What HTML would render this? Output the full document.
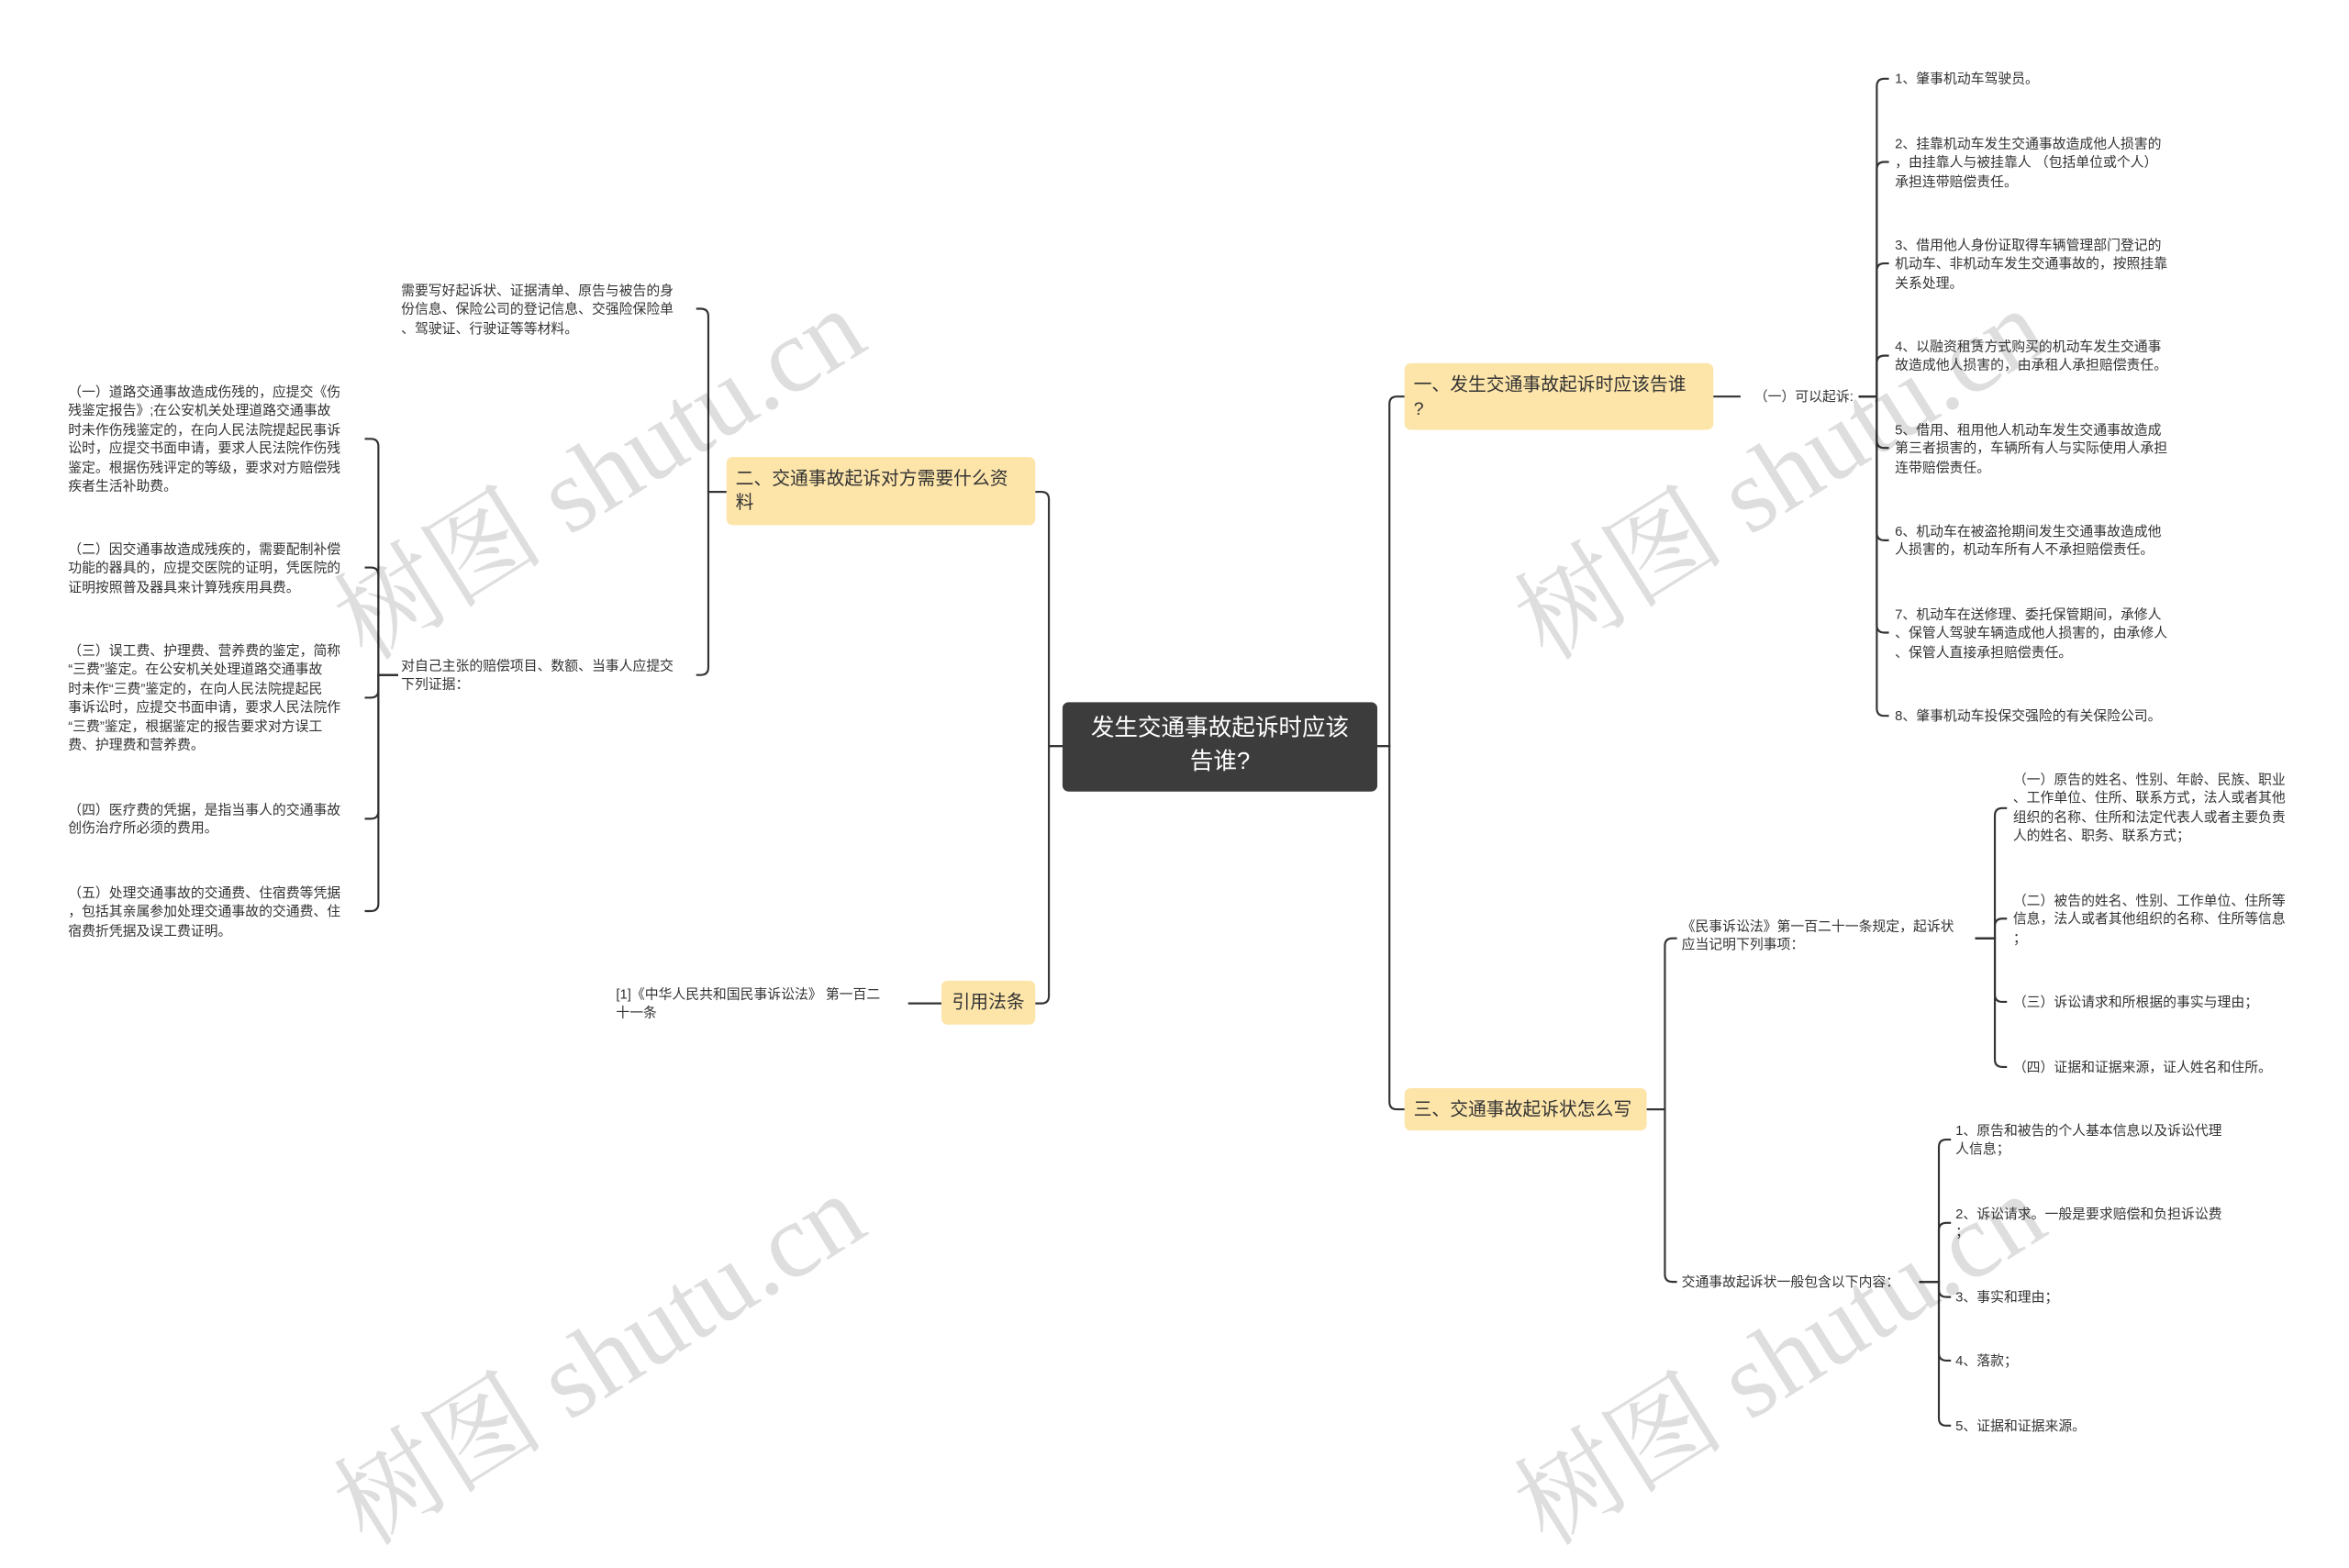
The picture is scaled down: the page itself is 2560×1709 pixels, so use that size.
<!DOCTYPE html>
<html><head><meta charset="utf-8">
<style>
html,body{margin:0;padding:0;background:#fff;}
body{width:2560px;height:1623px;overflow:hidden;position:relative;}
#w{position:absolute;left:0;top:0;width:1552px;height:984px;transform:scale(1.6495);transform-origin:0 0;font-family:"Liberation Sans","Noto Sans CJK SC",sans-serif;color:#333;}
.t{position:absolute;font-size:9px;line-height:12.4px;white-space:nowrap;color:#333;}
.n{position:absolute;background:#fde5aa;border-radius:4px;font-size:12px;line-height:16px;color:#333;box-sizing:border-box;padding:6px 6px;}
.c{position:absolute;left:702px;top:464px;width:208px;height:59px;background:#3c3c3c;border-radius:4px;color:#fff;font-size:15.5px;line-height:22px;text-align:center;box-sizing:border-box;padding-top:7px;}
.wm{position:absolute;width:0;height:0;}
.wm span{position:absolute;left:0;top:0;font-family:"Liberation Serif","Noto Serif CJK SC",serif;font-size:70px;line-height:70px;color:rgba(0,0,0,0.13);white-space:nowrap;transform:translate(-50%,-50%) rotate(-32deg);}
svg{position:absolute;left:0;top:0;}
</style></head><body>
<div id="w">
<svg width="1552" height="984" fill="none" stroke="#333" stroke-width="1.3">
<path d="M910 493H918V267Q918 262 923 262H928"/>
<path d="M910 493H918V728Q918 733 923 733H928"/>
<path d="M702 493H693V330Q693 325 688 325H684"/>
<path d="M702 493H693V658Q693 663 688 663H684"/>
<path d="M1132 262H1150"/>
<path d="M1228 262H1240V57Q1240 52 1245 52H1248"/>
<path d="M1228 262H1240V112Q1240 107 1245 107H1248"/>
<path d="M1228 262H1240V179Q1240 174 1245 174H1248"/>
<path d="M1228 262H1240V240Q1240 235 1245 235H1248"/>
<path d="M1228 262H1240V291Q1240 296 1245 296H1248"/>
<path d="M1228 262H1240V352Q1240 357 1245 357H1248"/>
<path d="M1228 262H1240V413Q1240 418 1245 418H1248"/>
<path d="M1228 262H1240V468Q1240 473 1245 473H1248"/>
<path d="M1088 733H1100V625Q1100 620 1105 620H1108"/>
<path d="M1088 733H1100V842Q1100 847 1105 847H1108"/>
<path d="M1305 620H1318V539Q1318 534 1323 534H1326"/>
<path d="M1305 620H1318V612Q1318 607 1323 607H1326"/>
<path d="M1305 620H1318V657Q1318 662 1323 662H1326"/>
<path d="M1305 620H1318V700Q1318 705 1323 705H1326"/>
<path d="M1268 847H1281V758Q1281 753 1286 753H1289"/>
<path d="M1268 847H1281V813Q1281 808 1286 808H1289"/>
<path d="M1268 847H1281V852Q1281 857 1286 857H1289"/>
<path d="M1268 847H1281V894Q1281 899 1286 899H1289"/>
<path d="M1268 847H1281V937Q1281 942 1286 942H1289"/>
<path d="M480 325H468V209Q468 204 463 204H460"/>
<path d="M480 325H468V441Q468 446 463 446H460"/>
<path d="M263 446H250V295Q250 290 245 290H241"/>
<path d="M263 446H250V380Q250 375 245 375H241"/>
<path d="M263 446H250V456Q250 461 245 461H241"/>
<path d="M263 446H250V536Q250 541 245 541H241"/>
<path d="M263 446H250V597Q250 602 245 602H241"/>
<path d="M622 663H600"/>
</svg>

<div class="wm" style="left:397px;top:315px;"><span>树图 shutu.cn</span></div>
<div class="wm" style="left:1177px;top:315px;"><span>树图 shutu.cn</span></div>
<div class="wm" style="left:397px;top:900px;"><span>树图 shutu.cn</span></div>
<div class="wm" style="left:1177px;top:900px;"><span>树图 shutu.cn</span></div>

<div class="c">发生交通事故起诉时应该<br>告谁?</div>
<div class="n" style="left:928px;top:240px;width:204px;height:44px;">一、发生交通事故起诉时应该告谁<br>?</div>
<div class="n" style="left:928px;top:719px;width:160px;height:28px;padding-top:6px;">三、交通事故起诉状怎么写</div>
<div class="n" style="left:480px;top:302px;width:204px;height:45px;padding-top:6px;">二、交通事故起诉对方需要什么资<br>料</div>
<div class="n" style="left:622px;top:648px;width:62px;height:29px;padding-top:6px;text-align:center;">引用法条</div>

<div class="t" style="left:1159px;top:256px;">（一）可以起诉:</div>
<div class="t" style="left:1252px;top:46px;">1、肇事机动车驾驶员。</div>
<div class="t" style="left:1252px;top:89px;">2、挂靠机动车发生交通事故造成他人损害的<br>，由挂靠人与被挂靠人 （包括单位或个人）<br>承担连带赔偿责任。</div>
<div class="t" style="left:1252px;top:156px;">3、借用他人身份证取得车辆管理部门登记的<br>机动车、非机动车发生交通事故的，按照挂靠<br>关系处理。</div>
<div class="t" style="left:1252px;top:223px;">4、以融资租赁方式购买的机动车发生交通事<br>故造成他人损害的，由承租人承担赔偿责任。</div>
<div class="t" style="left:1252px;top:278px;">5、借用、租用他人机动车发生交通事故造成<br>第三者损害的，车辆所有人与实际使用人承担<br>连带赔偿责任。</div>
<div class="t" style="left:1252px;top:345px;">6、机动车在被盗抢期间发生交通事故造成他<br>人损害的，机动车所有人不承担赔偿责任。</div>
<div class="t" style="left:1252px;top:400px;">7、机动车在送修理、委托保管期间，承修人<br>、保管人驾驶车辆造成他人损害的，由承修人<br>、保管人直接承担赔偿责任。</div>
<div class="t" style="left:1252px;top:467px;">8、肇事机动车投保交强险的有关保险公司。</div>

<div class="t" style="left:1111px;top:606px;">《民事诉讼法》第一百二十一条规定，起诉状<br>应当记明下列事项：</div>
<div class="t" style="left:1111px;top:841px;">交通事故起诉状一般包含以下内容：</div>
<div class="t" style="left:1330px;top:509px;">（一）原告的姓名、性别、年龄、民族、职业<br>、工作单位、住所、联系方式，法人或者其他<br>组织的名称、住所和法定代表人或者主要负责<br>人的姓名、职务、联系方式；</div>
<div class="t" style="left:1330px;top:589px;">（二）被告的姓名、性别、工作单位、住所等<br>信息，法人或者其他组织的名称、住所等信息<br>；</div>
<div class="t" style="left:1330px;top:656px;">（三）诉讼请求和所根据的事实与理由；</div>
<div class="t" style="left:1330px;top:699px;">（四）证据和证据来源，证人姓名和住所。</div>
<div class="t" style="left:1292px;top:741px;">1、原告和被告的个人基本信息以及诉讼代理<br>人信息；</div>
<div class="t" style="left:1292px;top:796px;">2、诉讼请求。一般是要求赔偿和负担诉讼费<br>；</div>
<div class="t" style="left:1292px;top:851px;">3、事实和理由；</div>
<div class="t" style="left:1292px;top:893px;">4、落款；</div>
<div class="t" style="left:1292px;top:936px;">5、证据和证据来源。</div>

<div class="t" style="left:265px;top:186px;">需要写好起诉状、证据清单、原告与被告的身<br>份信息、保险公司的登记信息、交强险保险单<br>、驾驶证、行驶证等等材料。</div>
<div class="t" style="left:265px;top:434px;">对自己主张的赔偿项目、数额、当事人应提交<br>下列证据：</div>
<div class="t" style="left:45px;top:253px;">（一）道路交通事故造成伤残的，应提交《伤<br>残鉴定报告》;在公安机关处理道路交通事故<br>时未作伤残鉴定的，在向人民法院提起民事诉<br>讼时，应提交书面申请，要求人民法院作伤残<br>鉴定。根据伤残评定的等级，要求对方赔偿残<br>疾者生活补助费。</div>
<div class="t" style="left:45px;top:357px;">（二）因交通事故造成残疾的，需要配制补偿<br>功能的器具的，应提交医院的证明，凭医院的<br>证明按照普及器具来计算残疾用具费。</div>
<div class="t" style="left:45px;top:424px;">（三）误工费、护理费、营养费的鉴定，简称<br>“三费”鉴定。在公安机关处理道路交通事故<br>时未作“三费”鉴定的，在向人民法院提起民<br>事诉讼时，应提交书面申请，要求人民法院作<br>“三费”鉴定，根据鉴定的报告要求对方误工<br>费、护理费和营养费。</div>
<div class="t" style="left:45px;top:529px;">（四）医疗费的凭据，是指当事人的交通事故<br>创伤治疗所必须的费用。</div>
<div class="t" style="left:45px;top:584px;">（五）处理交通事故的交通费、住宿费等凭据<br>，包括其亲属参加处理交通事故的交通费、住<br>宿费折凭据及误工费证明。</div>
<div class="t" style="left:407px;top:651px;">[1]《中华人民共和国民事诉讼法》 第一百二<br>十一条</div>
</div>
</body></html>
